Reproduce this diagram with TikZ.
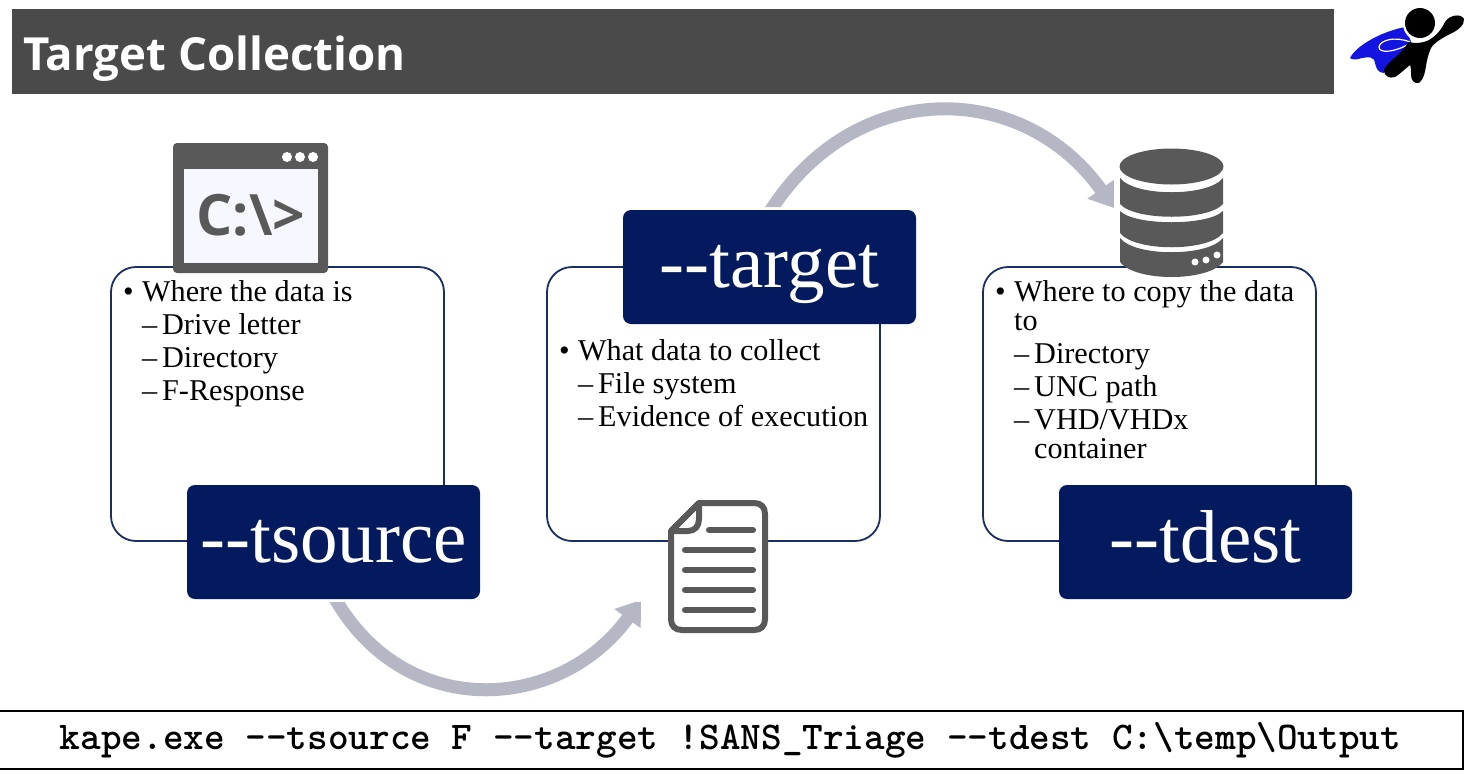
\documentclass[tikz,border=0pt]{standalone}
\usepackage{fontspec}
\setmainfont{Liberation Serif}
\newfontfamily\titlefont{Open Sans}
\newfontfamily\iconfont{Open Sans}
\usetikzlibrary{arrows.meta}
\definecolor{navy}{HTML}{031B5E}
\definecolor{panelline}{HTML}{1B2E63}
\definecolor{headgrey}{HTML}{4A4A4A}
\definecolor{icongrey}{HTML}{595959}
\definecolor{arcgrey}{HTML}{B6B7C5}
\definecolor{capeblue}{HTML}{1414E0}
\newcommand{\bul}[1]{\makebox[19pt][l]{•}#1}
\newcommand{\dsh}[1]{\hspace*{19pt}\makebox[20pt][l]{–}#1}
\newcommand{\cont}[1]{\hspace*{39pt}#1}
\tikzset{
  panel/.style={draw=panelline,line width=1.8pt,rounded corners=25pt,fill=white},
  flagbox/.style={fill=navy,rounded corners=8pt,text=white,minimum width=293pt,minimum height=114pt,inner sep=0pt,text height=50pt,text depth=10pt,font=\fontsize{75}{75}\selectfont},
  listtext/.style={anchor=north west,align=left,inner sep=0pt,text=black,font=\fontsize{30.2}{33}\selectfont},
  flow/.style={draw=arcgrey,line width=13pt,-{Triangle[length=23pt,width=31pt]}},
  iconline/.style={draw=icongrey,line width=6pt,line cap=round},
}
\begin{document}
\begin{tikzpicture}[x=1pt,y=-1pt]
\useasboundingbox (0,0) rectangle (1479,774);
\fill[white] (0,0) rectangle (1479,774);
% header
\fill[headgrey] (12,9) rectangle (1334,94);
\node[anchor=west,inner sep=0pt,text=white,font=\titlefont\bfseries\fontsize{45.6}{45.6}\selectfont] (title) at (23,59) {Target Collection};
% panels
\draw[panel] (111,267) rectangle (444,541);
\draw[panel] (547,267) rectangle (880,541);
\draw[panel] (983,267) rectangle (1316,541);
% flow arrows
\coordinate (a1s) at (333,595);
\coordinate (a1e) at (641,600);
\coordinate (a2s) at (769,213);
\coordinate (a2e) at (1114,208);
\begin{scope}
\clip (300,602) rectangle (700,720);
\draw[flow] (a1s) .. controls (403,722) and (559,713) .. (a1e);
\end{scope}
\begin{scope}
\clip (740,90) rectangle (1130,207) (1080,207) rectangle (1130,220);
\draw[flow] (a2s) .. controls (855,76) and (1023,80) .. (a2e);
\end{scope}
% boxes
\node[flagbox] (tsource) at (333.5,542) {-{}-tsource};
\node[flagbox] (target) at (769.5,267) {-{}-target};
\node[flagbox] (tdest) at (1205.5,542) {-{}-tdest};
% lists
\node[listtext] (l1) at (123,280) {\bul{Where the data is}\\\dsh{Drive letter}\\\dsh{Directory}\\\dsh{F-Response}};
\node[listtext] (l2) at (559,339) {\bul{What data to collect}\\\dsh{File system}\\\dsh{Evidence of execution}};
\node[listtext] (l3) at (995,280) {\bul{Where to copy the data}\\[-4pt]\hspace*{19pt}to\\\dsh{Directory}\\\dsh{UNC path}\\\dsh{VHD/VHDx}\\[-4pt]\cont{container}};
% terminal icon
\fill[icongrey,rounded corners=4pt] (173,143) rectangle (328,273);
\fill[white!97!blue] (184,169) rectangle (318,263);
\fill[white] (287,157) circle (5) (300,157) circle (5) (313,157) circle (5);
\node[inner sep=0pt,text=icongrey,font=\iconfont\bfseries\fontsize{57}{57}\selectfont] (prompt) at (251,215) {C:\textbackslash>};
% document icon
\draw[icongrey,line width=6pt,line join=round,fill=white] (699,503) -- (754,503) .. controls (761,503) and (765,507) .. (765,514) -- (765,619) .. controls (765,626) and (761,630) .. (754,630) -- (682,630) .. controls (675,630) and (671,626) .. (671,619) -- (671,531) -- cycle;
\draw[icongrey,line width=6pt,line join=round] (671,531) -- (699,503) -- (699,519) .. controls (699,526) and (695,531) .. (688,531) -- cycle;
\draw[iconline] (709,530) -- (753,530);
\draw[iconline] (685,550) -- (753,550);
\draw[iconline] (685,570) -- (753,570);
\draw[iconline] (685,590) -- (753,590);
\draw[iconline] (685,610) -- (753,610);
% database icon
\fill[icongrey] (1171.5,166.5) ellipse (52 and 18);
\fill[icongrey] (1120,178) .. controls (1135,197) and (1208,197) .. (1223,178) -- (1223,204) .. controls (1208,221) and (1135,221) .. (1120,204) -- cycle;
\fill[icongrey] (1120,211) .. controls (1135,226) and (1208,226) .. (1223,211) -- (1223,233) .. controls (1208,252) and (1135,252) .. (1120,233) -- cycle;
\fill[icongrey] (1120,238) .. controls (1135,257) and (1208,257) .. (1223,238) -- (1223,262) .. controls (1208,282) and (1135,282) .. (1120,262) -- cycle;
\fill[white] (1195,262) circle (3.5) (1206,260) circle (3.5) (1217,255) circle (3.5);
% superhero
\fill[capeblue] (1350,58) .. controls (1356,46) and (1380,32) .. (1405,27) -- (1412,44) -- (1390,66) -- (1384,73) .. controls (1378,73) and (1376,68) .. (1375,63) .. controls (1374,56) and (1368,57) .. (1362,58) .. controls (1356,60) and (1352,60) .. (1350,58) -- cycle;
\draw[white,line width=1.2pt,fill=capeblue] (1410,42) .. controls (1395,36) and (1380,40) .. (1379,47) .. controls (1379,54) and (1395,52) .. (1409,44);
\fill[white] (1420,24) circle (17);
\fill[black] (1420,23) circle (15);
\fill[black] (1408,42) .. controls (1416,44) and (1426,43) .. (1432,38) .. controls (1438,34) and (1442,28) .. (1445,22) .. controls (1449,15) and (1461,13) .. (1464,19) .. controls (1465,25) and (1457,31) .. (1450,34) .. controls (1442,38) and (1434,43) .. (1431,48) .. controls (1428,55) and (1427,60) .. (1426,66) .. controls (1425,72) and (1424,79) .. (1419,83) .. controls (1414,84) and (1411,80) .. (1411,75) .. controls (1411,71) and (1411,67) .. (1410,65) .. controls (1405,69) and (1400,74) .. (1395,77) .. controls (1389,79) and (1384,76) .. (1384,70) .. controls (1385,66) and (1392,60) .. (1398,55) .. controls (1402,51) and (1406,47) .. (1408,42) -- cycle;
% command bar
\node[draw=black,line width=2.5pt,fill=white,minimum width=1465pt,minimum height=58pt,inner sep=0pt,text=black,text height=26pt,text depth=8pt,font=\ttfamily\bfseries\addfontfeatures{FakeBold=1.6}\fontsize{39.3}{39.3}\selectfont] (cmd) at (730.5,740) {kape.exe -{}-tsource F -{}-target !SANS\_Triage -{}-tdest C:\textbackslash temp\textbackslash Output};
\end{tikzpicture}
\end{document}
